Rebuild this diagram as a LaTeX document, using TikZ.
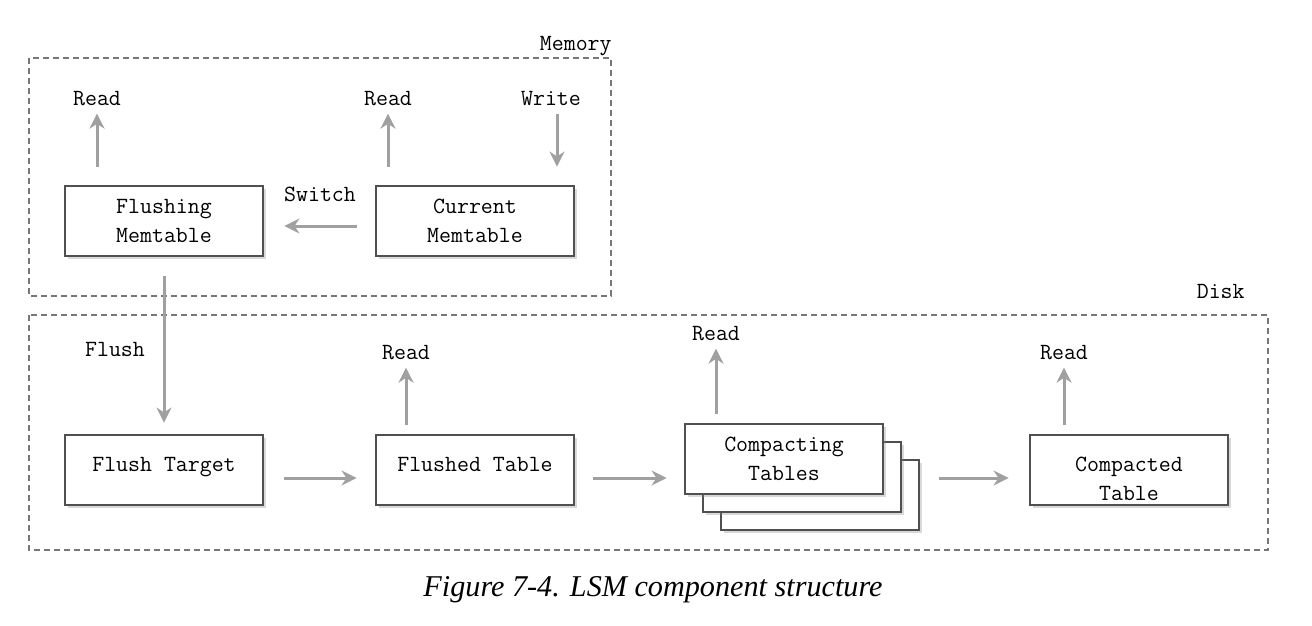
\documentclass[tikz,border=0pt]{standalone}
\usepackage{fontspec}
\usepackage{xcolor}
\usetikzlibrary{positioning,arrows.meta,shadows}
\newfontfamily\capfont{Liberation Serif}
\newcommand{\lblfont}{\ttfamily\fontsize{11.6}{14.5}\selectfont}
\newcommand{\lowline}{\rule{0pt}{16pt}}
\definecolor{boxgray}{HTML}{505050}
\definecolor{flowgray}{HTML}{A0A0A0}
\definecolor{zonegray}{HTML}{777777}
\tikzset{
	tbl/.style={draw=boxgray, line width=1.4pt, fill=white, minimum width=99pt, minimum height=35pt, inner sep=0pt, align=center, font=\lblfont, drop shadow={shadow xshift=1.5pt, shadow yshift=-1.5pt, opacity=0.3}},
	flow/.style={draw=flowgray, line width=1.5pt, -{Stealth[length=7.5pt,width=7.5pt,inset=2.4pt]}},
	zone/.style={draw=zonegray, line width=0.6pt, dash pattern=on 3pt off 2pt},
	lbl/.style={font=\lblfont, inner sep=0pt}
}
\begin{document}
\begin{tikzpicture}[x=0.5pt, y=-0.5pt]
	\useasboundingbox (0,0) rectangle (1312,626);
	\draw[zone] (29,58) rectangle (611,296); %memory
	\draw[zone] (29,315) rectangle (1268,550); %disk
	\node[lbl, anchor=base east] (memlbl) at (612,51) {Memory};
	\node[lbl, anchor=base east] (disklbl) at (1245,298) {Disk};
	% memory
	\node[tbl] (flushing) at (164,221) {Flushing\\Memtable};
	\node[tbl] (current) at (475,221) {Current\\Memtable};
	\node[lbl] (rdflushing) at (97,99) {Read};
	\node[lbl] (rdcurrent) at (388,99) {Read};
	\node[lbl] (wrcurrent) at (551,99) {Write};
	\node[lbl] (switchlbl) at (320,194) {Switch};
	\draw[flow, shorten <=9pt, shorten >=3.5pt] (rdflushing.south |- flushing.north) -- (rdflushing.south);
	\draw[flow, shorten <=9pt, shorten >=3.5pt] (rdcurrent.south |- current.north) -- (rdcurrent.south);
	\draw[flow, shorten <=3.5pt, shorten >=9pt] ([xshift=3pt]wrcurrent.south) -- ([xshift=3pt]wrcurrent.south |- current.north);
	\draw[flow, shorten <=9pt, shorten >=10pt] ([yshift=-2.5pt]current.west) -- ([yshift=-2.5pt]flushing.east);
	% disk
	\node[tbl] (target) at (164,470) {\lowline Flush Target\\~};
	\node[tbl] (flushed) at (475,470) {\lowline Flushed Table\\~};
	\node[tbl] (cmpthree) at (820,495) {\phantom{Compacting}\\~};
	\node[tbl] (cmptwo) at (802,477) {\phantom{Compacting}\\~};
	\node[tbl] (compacting) at (784,459) {Compacting\\Tables};
	\node[tbl] (compacted) at (1129,470) {\lowline Compacted\\Table};
	\node[lbl] (flushlbl) at (115,349) {Flush};
	\node[lbl] (rdflushed) at (406,353) {Read};
	\node[lbl] (rdcompacting) at (716,334) {Read};
	\node[lbl] (rdcompacted) at (1064,353) {Read};
	\draw[flow, shorten <=9.5pt, shorten >=5.5pt] (flushing.south) -- (target.north);
	\draw[flow, shorten <=10pt, shorten >=9pt] ([yshift=-4pt]target.east) -- ([yshift=-4pt]flushed.west);
	\draw[flow, shorten <=9pt, shorten >=8.5pt] ([yshift=-4pt]flushed.east) -- ([yshift=-4pt]flushed.east -| compacting.west);
	\draw[flow, shorten <=9.5pt, shorten >=10pt] ([yshift=-4pt]flushed.east -| cmpthree.east) -- ([yshift=-4pt]compacted.west);
	\draw[flow, shorten <=4.5pt, shorten >=3.5pt] (rdflushed.south |- flushed.north) -- (rdflushed.south);
	\draw[flow, shorten <=4.5pt, shorten >=3.5pt] (rdcompacting.south |- compacting.north) -- (rdcompacting.south);
	\draw[flow, shorten <=4.5pt, shorten >=3.5pt] (rdcompacted.south |- compacted.north) -- (rdcompacted.south);
	% caption
	\node[font=\capfont\itshape\fontsize{15.1}{18}\selectfont, inner sep=0pt] (caption) at (653,590) {Figure 7-4. LSM component structure};
\end{tikzpicture}
\end{document}
